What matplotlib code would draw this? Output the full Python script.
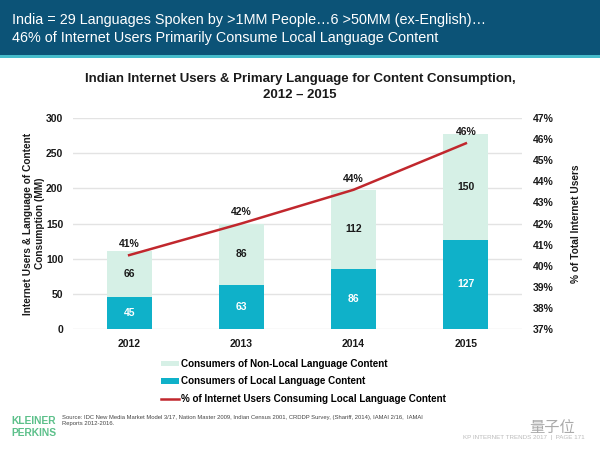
import matplotlib
matplotlib.use("Agg")
import matplotlib.pyplot as plt
from matplotlib.patches import Rectangle
import numpy as np

years = ["2012", "2013", "2014", "2015"]
local = [45, 63, 86, 127]
nonlocal_ = [66, 86, 112, 150]
pct_line = [40.5, 42.0, 43.6, 45.8]
pct_labels = ["41%", "42%", "44%", "46%"]
left_ticks = [0, 50, 100, 150, 200, 250, 300]
right_ticks = [37, 38, 39, 40, 41, 42, 43, 44, 45, 46, 47]

FONT = "Liberation Sans"
plt.rcParams["font.family"] = [FONT, "DejaVu Sans"]

W, H = 600, 450
fig = plt.figure(figsize=(6, 4.5), dpi=100)
fig.patch.set_facecolor("white")

def fx(px):
    return px / W

def fy(py):
    return 1 - py / H

# header band
fig.patches.append(Rectangle((0, fy(55)), 1, 55 / H, transform=fig.transFigure,
                             facecolor="#0c5377", edgecolor="none", zorder=0))
fig.patches.append(Rectangle((0, fy(58)), 1, 3 / H, transform=fig.transFigure,
                             facecolor="#46bccb", edgecolor="none", zorder=0))
fig.text(fx(12), fy(20), "India = 29 Languages Spoken by >1MM People\u20266 >50MM (ex-English)\u2026",
         color="white", fontsize=10.4, va="center", ha="left")
fig.text(fx(12), fy(38), "46% of Internet Users Primarily Consume Local Language Content",
         color="white", fontsize=10.4, va="center", ha="left")

# chart title
fig.text(0.5, fy(79), "Indian Internet Users & Primary Language for Content Consumption,",
         fontsize=9.5, fontweight="bold", ha="center", va="center", color="#1a1a1a")
fig.text(0.5, fy(95), "2012 \u2013 2015",
         fontsize=9.5, fontweight="bold", ha="center", va="center", color="#1a1a1a")

ax = fig.add_axes([fx(73), fy(329), fx(449), 211 / H])
x = np.arange(len(years))
bw = 0.4
dark = "#0fb1c9"
light = "#d6f0e6"
ax.bar(x, local, bw, color=dark, zorder=2, label="Consumers of Local Language Content")
ax.bar(x, nonlocal_, bw, bottom=local, color=light, zorder=2,
       label="Consumers of Non-Local Language Content")
for i in range(len(years)):
    ax.text(x[i], local[i] / 2, str(local[i]), ha="center", va="center",
            color="white", fontsize=7.5, fontweight="bold", zorder=3)
    ax.text(x[i], local[i] + nonlocal_[i] / 2, str(nonlocal_[i]), ha="center", va="center",
            color="#1a1a1a", fontsize=7.5, fontweight="bold", zorder=3)

ax.set_xlim(-0.5, 3.5)
ax.set_ylim(0, 300)
ax.set_yticks(left_ticks)
ax.set_xticks(x)
ax.set_xticklabels(years)
ax.grid(axis="y", color="#e3e3e3", linewidth=1, zorder=0)
ax.set_axisbelow(True)
for s in ax.spines.values():
    s.set_visible(False)
ax.tick_params(length=0, labelsize=7.5, colors="#1a1a1a", pad=7)
for lab in ax.get_xticklabels() + ax.get_yticklabels():
    lab.set_fontweight("bold")
ax.set_ylabel("Internet Users & Language of Content\nConsumption (MM)", fontsize=7.3,
              fontweight="bold", color="#1a1a1a", labelpad=1, linespacing=1.25)

ax2 = ax.twinx()
ax2.set_ylim(37, 47)
ax2.set_yticks(right_ticks)
ax2.set_yticklabels([f"{t}%" for t in right_ticks])
for s in ax2.spines.values():
    s.set_visible(False)
ax2.tick_params(length=0, labelsize=7.5, colors="#1a1a1a", pad=8)
for lab in ax2.get_yticklabels():
    lab.set_fontweight("bold")
line, = ax2.plot(x, pct_line, color="#c1272d", linewidth=1.8, zorder=4,
                 label="% of Internet Users Consuming Local Language Content")
for i in range(len(years)):
    ax2.annotate(pct_labels[i], (x[i], pct_line[i]), xytext=(0, 8), textcoords="offset points",
                 ha="center", va="center", fontsize=7.5, fontweight="bold", color="#1a1a1a")
ax2.set_ylabel("% of Total Internet Users", fontsize=7.3, fontweight="bold",
               color="#1a1a1a", labelpad=12)

h_bars = ax.get_legend_handles_labels()
handles = [h_bars[0][1], h_bars[0][0], line]
labels = [h_bars[1][1], h_bars[1][0], line.get_label()]
leg = fig.legend(handles, labels, loc="upper left", bbox_to_anchor=(fx(161), fy(359)),
                 frameon=False, prop={"family": FONT, "weight": "bold", "size": 7.1},
                 handlelength=1.85, handleheight=0.5, handletextpad=0.15, labelspacing=0.75,
                 borderaxespad=0, borderpad=0)

# footer
fig.text(fx(11), fy(421), "KLEINER", color="#5cc08a", fontsize=7.4, fontweight="bold",
         va="center", ha="left")
fig.text(fx(11), fy(433), "PERKINS", color="#5cc08a", fontsize=7.4, fontweight="bold",
         va="center", ha="left")
fig.text(fx(62), fy(418), "Source: IDC New Media Market Model 3/17, Nation Master 2009, Indian Census 2001, CRDDP Survey, (Shariff, 2014), IAMAI 2/16,  IAMAI",
         fontsize=4.2, color="#444444", va="center", ha="left")
fig.text(fx(62), fy(424), "Reports 2012-2016.",
         fontsize=4.2, color="#444444", va="center", ha="left")
fig.text(fx(585), fy(437), "KP INTERNET TRENDS 2017  |  PAGE 171", fontsize=4.5,
         color="#bbbbbb", va="center", ha="right")
fig.text(fx(575), fy(427), "\u91cf\u5b50\u4f4d", fontsize=11, color="#aaaaaa",
         va="center", ha="right", family=["Noto Sans CJK SC", "DejaVu Sans"])

fig.savefig("out.png", dpi=100)
